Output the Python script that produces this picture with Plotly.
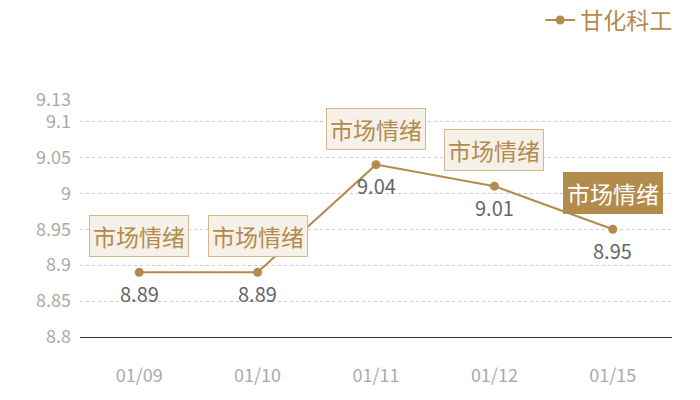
import plotly.graph_objects as go

categories = ["01/09", "01/10", "01/11", "01/12", "01/15"]
values = [8.89, 8.89, 9.04, 9.01, 8.95]
series_name = "甘化科工"
note_text = "市场情绪"
y_ticks = [8.8, 8.85, 8.9, 8.95, 9.0, 9.05, 9.1, 9.13]
y_tick_labels = ["8.8", "8.85", "8.9", "8.95", "9", "9.05", "9.1", "9.13"]

gold = "#b38b4d"
font_family = "Noto Sans CJK SC, Noto Sans, sans-serif"

fig = go.Figure()
fig.add_trace(go.Scatter(
    x=categories, y=values, mode="lines+markers", name=series_name,
    line=dict(color=gold, width=2),
    marker=dict(color=gold, size=9),
    cliponaxis=False,
))

annotations = []
for i, (c, v) in enumerate(zip(categories, values)):
    last = i == len(categories) - 1
    annotations.append(dict(
        x=c, y=v, xref="x", yref="y", text=note_text, showarrow=False,
        yshift=36,
        font=dict(family=font_family, size=23, color="#ffffff" if last else gold),
        bgcolor=gold if last else "#f5f0e8",
        bordercolor=gold if last else "#d2b88e",
        borderwidth=1, borderpad=3,
    ))
    annotations.append(dict(
        x=c, y=v, xref="x", yref="y", text=f"{v:.2f}", showarrow=False,
        yshift=-21,
        font=dict(family=font_family, size=20, color="#666666"),
    ))

fig.update_layout(
    width=700, height=400,
    margin=dict(l=72, r=36, t=92, b=71, autoexpand=False),
    paper_bgcolor="white", plot_bgcolor="white",
    font=dict(family=font_family),
    showlegend=True,
    legend=dict(x=0.956, xanchor="right", xref="container",
                y=0.97, yanchor="middle", yref="container",
                font=dict(size=23, color=gold, family=font_family),
                bgcolor="rgba(0,0,0,0)", itemwidth=30),
    annotations=annotations,
    xaxis=dict(
        type="category", range=[-0.5, 4.5], showgrid=False, showline=True,
        linecolor="#333333", linewidth=1, ticks="",
        tickfont=dict(size=18, color="#aaaaaa"),
        ticklabelstandoff=22, zeroline=False,
    ),
    yaxis=dict(
        range=[8.8, 9.13], tickvals=y_ticks, ticktext=y_tick_labels,
        showgrid=True, gridcolor="#cccccc", griddash="dot", gridwidth=1,
        zeroline=False, showline=False, ticks="",
        tickfont=dict(size=18, color="#aaaaaa"), ticklabelstandoff=8,
    ),
)

fig.write_html("out.html")
